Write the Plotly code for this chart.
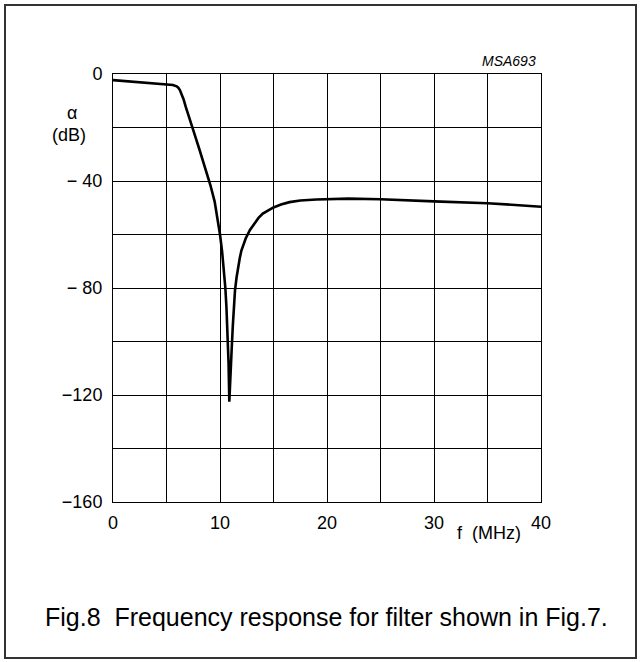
import plotly.graph_objects as go

# ---- data ----
freq_mhz = [0, 2.5, 5.0, 5.6, 5.95, 6.1, 6.25, 6.4, 6.6, 6.8, 7.1, 7.5, 8.1,
            8.5, 8.9, 9.1, 9.5, 9.85, 10.0, 10.2, 10.35, 10.5, 10.6, 10.7,
            10.8, 10.87, 10.93, 11.0, 11.09, 11.2, 11.3, 11.4, 11.55, 11.7,
            11.85, 12.0, 12.4, 12.8, 13.2, 13.6, 14.0, 14.5, 15.0, 15.7, 16.5,
            17.5, 19.0, 22.0, 25.0, 30.0, 35.0, 40.0]
atten_db = [-2.3, -3.0, -3.7, -4.1, -4.6, -5.1, -6.0, -7.3, -9.5, -12.3,
            -16.3, -21.0, -28.5, -33.5, -39.0, -41.5, -47.7, -55.5, -60.0,
            -66.5, -72.5, -80.0, -87.0, -97.0, -108.0, -122.5, -115.0, -109.0,
            -103.0, -94.0, -87.0, -81.0, -76.0, -72.0, -68.8, -66.0, -61.5,
            -58.3, -55.8, -53.8, -52.2, -50.9, -49.9, -48.8, -47.9, -47.3,
            -46.9, -46.6, -46.8, -47.6, -48.3, -49.6]

x_tickvals = [0, 5, 10, 15, 20, 25, 30, 35, 40]
x_ticktext = ["0", "", "10", "", "20", "", "30", "", "40"]
y_tickvals = [0, -20, -40, -60, -80, -100, -120, -140, -160]
y_ticktext = ["0", "", "\u2212 40", "", "\u2212 80", "", "\u2212120", "", "\u2212160"]

FONT = "Liberation Sans, Arial, sans-serif"

fig = go.Figure()
fig.add_trace(go.Scatter(
    x=freq_mhz, y=atten_db, mode="lines",
    line=dict(color="black", width=2.6),
    hoverinfo="skip", showlegend=False,
))

axis_common = dict(
    showgrid=True, gridcolor="black", gridwidth=1,
    showline=True, linecolor="black", linewidth=1, mirror=True,
    ticks="", zeroline=False, fixedrange=True,
    tickfont=dict(family=FONT, size=18, color="black"),
)

fig.update_xaxes(range=[0, 40], tickmode="array", tickvals=x_tickvals,
                 ticktext=x_ticktext, ticklabelstandoff=4, **axis_common)
fig.update_yaxes(range=[-160, 0], tickmode="array", tickvals=y_tickvals,
                 ticktext=y_ticktext, ticklabelstandoff=6, **axis_common)

L, T, W, H = 113, 74, 428, 428
FW, FH = 641, 662


def px(xp):
    return (xp - L) / W


def py(yp):
    return (T + H - yp) / H


annotations = [
    dict(text="\u03b1", x=px(72), y=py(113), xanchor="center", yanchor="middle",
         font=dict(family=FONT, size=18, color="black")),
    dict(text="(dB)", x=px(69), y=py(135), xanchor="center", yanchor="middle",
         font=dict(family=FONT, size=18, color="black")),
    dict(text="<i>MSA693</i>", x=px(538), y=py(61), xanchor="right", yanchor="middle",
         font=dict(family=FONT, size=14, color="black")),
    dict(text="f  (MHz)", x=px(489), y=py(533), xanchor="center", yanchor="middle",
         font=dict(family=FONT, size=18, color="black")),
    dict(text="Fig.8  Frequency response for filter shown in Fig.7.",
         x=px(43), y=py(617), xanchor="left", yanchor="middle",
         font=dict(family=FONT, size=25, color="black")),
]
for a in annotations:
    a.update(xref="paper", yref="paper", showarrow=False)

fig.update_layout(
    width=FW, height=FH,
    margin=dict(l=L, r=FW - L - W, t=T, b=FH - T - H, pad=0),
    paper_bgcolor="white", plot_bgcolor="white",
    annotations=annotations,
    shapes=[dict(type="rect", xref="paper", yref="paper",
                 x0=px(5), x1=px(636), y0=py(658), y1=py(5),
                 line=dict(color="#333333", width=2), layer="below")],
)

fig.write_html(
    "out.html",
    config={"displayModeBar": False},
    post_script="document.body.style.margin='0';document.body.style.overflow='hidden';",
)
